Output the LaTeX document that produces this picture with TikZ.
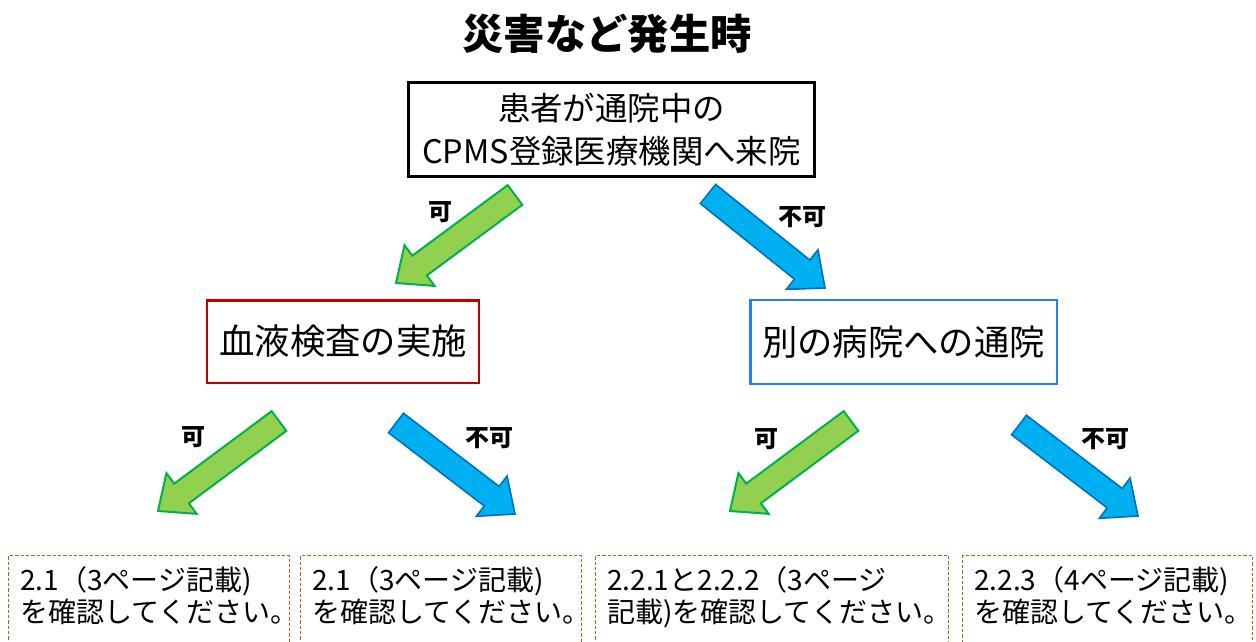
\documentclass[tikz,border=0pt]{standalone}
\usepackage{fontspec}
\setmainfont{Noto Sans CJK JP}
\usetikzlibrary{calc}
\definecolor{gfill}{HTML}{92D050}
\definecolor{gline}{HTML}{00B050}
\definecolor{bfill}{HTML}{00B0F0}
\definecolor{bline}{HTML}{0070C0}
\definecolor{redbox}{HTML}{C00000}
\definecolor{bluebox}{HTML}{2680F5}
\definecolor{dashbrown}{HTML}{C55A11}
\newcommand\blockarr[3]{%
  \coordinate (#2-h) at ($(#3)!22pt!(#2)$);
  \draw[#1] ($(#2)!9.2pt!90:(#3)$) -- ($(#2-h)!9.2pt!90:(#3)$) -- ($(#2-h)!19pt!90:(#3)$) -- (#3)
    -- ($(#2-h)!19pt!-90:(#3)$) -- ($(#2-h)!9.2pt!-90:(#3)$) -- ($(#2)!9.2pt!-90:(#3)$) -- cycle;}
\tikzset{
  greenarr/.style={fill=gfill, draw=gline, line width=1.5pt, line join=miter},
  bluearr/.style={fill=bfill, draw=bline, line width=1.2pt, line join=miter},
  lbl/.style={font=\bfseries\fontsize{18pt}{20pt}\selectfont, inner sep=0pt},
  midtext/.style={font=\fontsize{26.5pt}{30pt}\selectfont},
  dbox/.style={draw=dashbrown, dash pattern=on 2.5pt off 1.5pt, line width=1.1pt, anchor=north west, minimum height=90pt, inner sep=0pt},
  btext/.style={anchor=north west, align=left, inner sep=0pt, font=\fontsize{21pt}{24pt}\selectfont}
}
\begin{document}
\begin{tikzpicture}[x=0.75pt,y=-0.75pt]
\useasboundingbox (0,0) rectangle (1256,642);
\clip (0,0) rectangle (1256,642);
\fill[white] (0,0) rectangle (1256,642);

\node[font=\bfseries\fontsize{31pt}{36pt}\selectfont, inner sep=0pt] (title) at (607,34) {災害など発生時};

\node[draw=black, line width=2.2pt, minimum width=305pt, minimum height=71pt, align=center,
      font=\fontsize{24.3pt}{32pt}\selectfont, inner sep=0pt] (top) at (611.5,129.5)
      {患者が通院中の\\CPMS登録医療機関へ来院};

\node[draw=redbox, line width=2pt, minimum width=204pt, minimum height=62pt, midtext] (red) at (343,341.5) {血液検査の実施};
\node[draw=bluebox, line width=2pt, minimum width=230pt, minimum height=63pt, midtext] (blue) at (903.5,342) {別の病院への通院};

% bottom boxes
\node[dbox, minimum width=210.75pt] (b1) at (8,555) {};
\node[dbox, minimum width=210.75pt] (b2) at (300,555) {};
\node[dbox, minimum width=264.75pt] (b3) at (595,555) {};
\node[dbox, minimum width=217.5pt] (b4) at (962,555) {};
\node[btext] (t1) at ($(b1.north west)+(12,11)$) {2.1（3ページ記載)\\を確認してください。};
\node[btext] (t2) at ($(b2.north west)+(12,11)$) {2.1（3ページ記載)\\を確認してください。};
\node[btext] (t3) at ($(b3.north west)+(12,11)$) {2.2.1と2.2.2（3ページ\\記載)を確認してください。};
\node[btext] (t4) at ($(b4.north west)+(12,11)$) {2.2.3（4ページ記載)\\を確認してください。};

% arrows
\coordinate (a1t) at (515,195); \coordinate (a1h) at (396,283);
\coordinate (a2t) at (708,194); \coordinate (a2h) at (825,288);
\coordinate (a3t) at (279,421); \coordinate (a3h) at (158,511);
\coordinate (a4t) at (396,423); \coordinate (a4h) at (515,514);
\coordinate (a5t) at (851,421); \coordinate (a5h) at (730,511);
\coordinate (a6t) at (1019,425); \coordinate (a6h) at (1138,516);
\blockarr{greenarr}{a1t}{a1h}
\blockarr{bluearr}{a2t}{a2h}
\blockarr{greenarr}{a3t}{a3h}
\blockarr{bluearr}{a4t}{a4h}
\blockarr{greenarr}{a5t}{a5h}
\blockarr{bluearr}{a6t}{a6h}

\node[lbl] (l1) at (440,212) {可};
\node[lbl] (l2) at (802,217) {不可};
\node[lbl] (l3) at (193,437) {可};
\node[lbl] (l4) at (489,438) {不可};
\node[lbl] (l5) at (766,439) {可};
\node[lbl] (l6) at (1105,439) {不可};
\end{tikzpicture}
\end{document}
